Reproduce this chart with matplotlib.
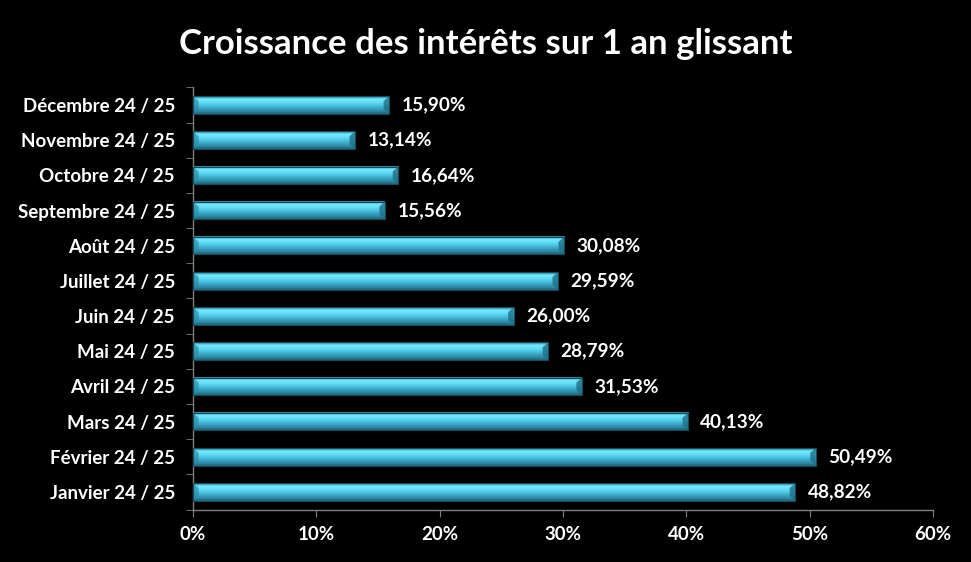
import numpy as np
import matplotlib.pyplot as plt
from matplotlib.patches import Polygon
from matplotlib.ticker import FixedLocator, PercentFormatter

months = ['Janvier 24 / 25', 'Février 24 / 25', 'Mars 24 / 25', 'Avril 24 / 25',
          'Mai 24 / 25', 'Juin 24 / 25', 'Juillet 24 / 25', 'Août 24 / 25',
          'Septembre 24 / 25', 'Octobre 24 / 25', 'Novembre 24 / 25', 'Décembre 24 / 25']
growth = [48.82, 50.49, 40.13, 31.53, 28.79, 26.00, 29.59, 30.08,
          15.56, 16.64, 13.14, 15.90]
x_ticks = [0, 10, 20, 30, 40, 50, 60]

plt.rcParams['font.family'] = ['Lato', 'DejaVu Sans']
plt.rcParams['font.weight'] = 'bold'

fig = plt.figure(figsize=(9.71, 5.62), dpi=100, facecolor='black')
ax = fig.add_axes([0.1988, 0.0934, 0.7622, 0.7511], facecolor='black')

# vertical gradient for the "3D" cyan bars (top of image = bottom of bar)
stops = np.array([
    [0.12, 0.40, 0.48],
    [0.18, 0.55, 0.66],
    [0.24, 0.66, 0.78],
    [0.30, 0.78, 0.90],
    [0.40, 0.87, 0.97],
    [0.45, 0.91, 0.99],
    [0.16, 0.48, 0.58],
])
t = np.linspace(0, 1, 40)
pos = np.linspace(0, 1, len(stops))
grad = np.stack([np.interp(t, pos, stops[:, c]) for c in range(3)], axis=1)
grad = grad[:, None, :]

h = 0.5
y = np.arange(len(months))
for yi, v in zip(y, growth):
    ax.imshow(grad, extent=[0, v, yi + h / 2, yi - h / 2], aspect='auto',
              zorder=2, interpolation='bilinear')
    # bevelled ends
    d, e = 0.45, h * 0.28
    ax.add_patch(Polygon([(v, yi - h / 2), (v, yi + h / 2), (v - d, yi + h / 2 - e),
                          (v - d, yi - h / 2 + e)], closed=True,
                         facecolor='#1d6f86', alpha=0.8, lw=0, zorder=3))
    ax.add_patch(Polygon([(0, yi - h / 2), (0, yi + h / 2), (d, yi + h / 2 - e),
                          (d, yi - h / 2 + e)], closed=True,
                         facecolor='#2a8ea8', alpha=0.7, lw=0, zorder=3))
    ax.barh(yi, v, height=h, facecolor='none', edgecolor='#134d5c', lw=0.8, zorder=3)
    ax.text(v + 1.0, yi, f'{v:.2f}%'.replace('.', ','), color='white',
            fontsize=13.7, fontweight='bold', va='center', ha='left', zorder=4)

ax.set_xlim(0, 60)
ax.set_ylim(-0.5, len(months) - 0.5)
ax.set_yticks(y)
ax.set_yticklabels(months)
ax.yaxis.set_minor_locator(FixedLocator(np.arange(-0.5, len(months), 1)))
ax.set_xticks(x_ticks)
ax.xaxis.set_major_formatter(PercentFormatter(decimals=0))

ax.tick_params(axis='y', which='major', length=0, pad=13, labelsize=13.5, colors='white')
ax.tick_params(axis='y', which='minor', length=5, color='#808080', direction='out')
ax.tick_params(axis='x', length=5, color='#808080', pad=7, labelsize=13.5, labelcolor='white')
for lab in ax.get_xticklabels() + ax.get_yticklabels():
    lab.set_fontweight('bold')

for side in ['top', 'right']:
    ax.spines[side].set_visible(False)
for side in ['left', 'bottom']:
    ax.spines[side].set_color('#808080')
    ax.spines[side].set_linewidth(1)

fig.text(0.5, 0.922, 'Croissance des intérêts sur 1 an glissant', color='white',
         fontsize=25, fontweight='bold', ha='center', va='center')

fig.savefig('out.png', dpi=100, facecolor='black')
